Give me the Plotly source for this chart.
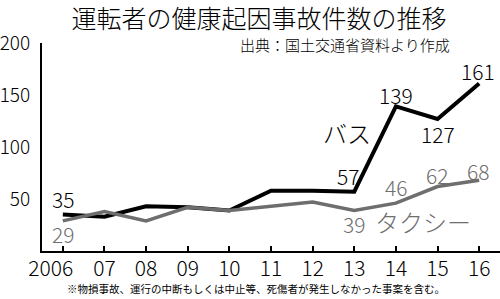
import plotly.graph_objects as go

years = [2006, 2007, 2008, 2009, 2010, 2011, 2012, 2013, 2014, 2015, 2016]
year_labels = ["", "07", "08", "09", "10", "11", "12", "13", "14", "15", "16"]
first_year_label = ["2006"]
bus = [35, 33, 43, 42, 39, 58, 58, 57, 139, 127, 161]
taxi = [29, 38, 29, 42, 39, 43, 47, 39, 46, 62, 68]

# labelled points: (year, value, xshift, yshift)
bus_labels = [(2006, 35, 0, 16), (2013, 57, -6, 16), (2014, 139, 0, 11), (2015, 127, 0, -15), (2016, 161, -1, 13)]
taxi_labels = [(2006, 29, 0, -13), (2013, 39, 0, -14), (2014, 46, 0, 16), (2015, 62, -1, 12), (2016, 68, -1, 9)]

FONT = "Noto Sans CJK JP"
BLACK = "#000000"
GRAY = "#6e6e6e"

fig = go.Figure()
fig.add_trace(go.Scatter(x=years, y=taxi, mode="lines", xaxis="x2",
                         line=dict(color=GRAY, width=3.5), hoverinfo="skip"))
fig.add_trace(go.Scatter(x=years, y=bus, mode="lines",
                         line=dict(color=BLACK, width=4), hoverinfo="skip"))

ann = []
for yr, v, xs, ys in bus_labels:
    ann.append(dict(x=yr, y=v, xref="x", yref="y", text=str(v), showarrow=False,
                    xshift=xs, yshift=ys, font=dict(family=FONT, size=21, color=BLACK, weight=300)))
for yr, v, xs, ys in taxi_labels:
    ann.append(dict(x=yr, y=v, xref="x", yref="y", text=str(v), showarrow=False,
                    xshift=xs, yshift=ys, font=dict(family=FONT, size=21, color=GRAY, weight=300)))

ann.append(dict(x=2012.82, y=114, xref="x", yref="y", text="バス", showarrow=False,
                font=dict(family=FONT, size=24, color=BLACK, weight=300)))
ann.append(dict(x=2014.64, y=28, xref="x", yref="y", text="タクシー", showarrow=False,
                font=dict(family=FONT, size=24, color=GRAY, weight=300)))
ann.append(dict(x=0.8957, y=(251 - 44) / 208, xref="paper", yref="paper", text="出典：国土交通省資料より作成",
                showarrow=False, xanchor="right", yanchor="middle",
                font=dict(family=FONT, size=15, color=BLACK, weight=300)))
ann.append(dict(x=0.467, y=(251 - 288) / 208, xref="paper", yref="paper",
                text="※物損事故、運行の中断もしくは中止等、死傷者が発生しなかった事案を含む。",
                showarrow=False, xanchor="center", yanchor="middle",
                font=dict(family=FONT, size=10.5, color=BLACK)))

xcommon = dict(range=[2005.5, 2016.5], tickangle=0, showgrid=False, zeroline=False,
               ticklabelstandoff=-2, fixedrange=True, showline=True, linewidth=2,
               ticks="inside", ticklen=5, tickwidth=2,
               tickfont=dict(family=FONT, size=21, color=BLACK, weight=300))

fig.update_layout(
    width=500, height=299,
    margin=dict(l=40, r=0, t=43, b=48),
    paper_bgcolor="white", plot_bgcolor="white",
    showlegend=False,
    title=dict(text="運転者の健康起因事故件数の推移", xref="container", yref="container",
               x=0.518, y=1 - 19 / 299, xanchor="center", yanchor="middle",
               font=dict(family=FONT, size=25, color=BLACK, weight=300)),
    annotations=ann,
    xaxis=dict(tickvals=years, ticktext=year_labels, linecolor=BLACK, tickcolor=BLACK, **xcommon),
    xaxis2=dict(overlaying="x", side="bottom", tickvals=[years[0]], ticktext=first_year_label,
                linecolor="rgba(0,0,0,0)", tickcolor="rgba(0,0,0,0)", ticklabelshift=-12, **xcommon),
    yaxis=dict(range=[0, 200], tickvals=[50, 100, 150, 200],
               showgrid=False, zeroline=False, showline=True, linecolor=BLACK, linewidth=2,
               ticks="", ticklabelstandoff=6,
               tickfont=dict(family=FONT, size=19, color=BLACK, weight=300), fixedrange=True),
)

fig.write_html("out.html", config=dict(displayModeBar=False))
